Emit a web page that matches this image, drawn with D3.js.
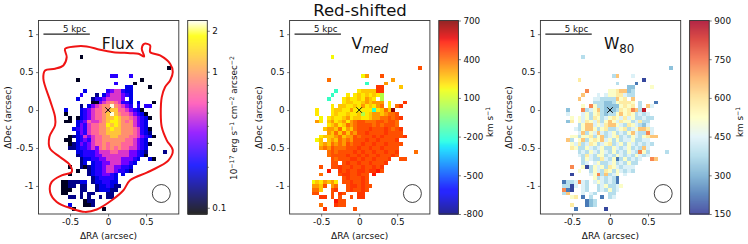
<!DOCTYPE html>
<html>
<head>
<meta charset="utf-8">
<script src="https://cdnjs.cloudflare.com/ajax/libs/d3/7.8.5/d3.min.js"></script>
<style>
  html, body { margin: 0; padding: 0; background: white; }
  svg { display: block; }
  text { font-family: "DejaVu Sans", sans-serif; fill: #111; }
</style>
</head>
<body>
<script>
const width = 748, height = 244;

// every map is one row of text per Dec step, one character per RA step
// (char = index in the levels array of that map, "." = no data)
const raFirst = -12;     // RA index of the first character
const decFirst = 14;     // Dec index of the first row
const pixelSize = 0.05;  // arcsec

const fluxLevels = [0.1, 0.14, 0.19, 0.24, 0.33, 0.5, 0.68, 0.9, 1.25, 1.7, 2.3];
const vmedLevels = [-180, 50, 170, 195, 250, 320, 390, 440, 480, 530, 680];
const w80Levels = [170, 230, 335, 390, 445, 515, 570, 640, 720, 860];

const fluxRows = [
  ".....0",
  "",
  "",
  "............................0",
  "",
  ".............33...3",
  "....0................0",
  "..............3....0",
  ".................22....0",
  "......2.....3455322",
  ".....3...1.24555432",
  "....2...133455554.2",
  "........00456765332.2...0",
  ".....1.245677a76543.3.33",
  ".2...23456677886654320",
  ".0...234566" + "78a8766543" + "20",
  "..0.02345667889877654320",
  ".00.2346556789987675432",
  "....2435667798987775432",
  "...234356677898877765320",
  "....24356677888877765321",
  "..01235456677887776654320",
  ".00.2343566777777665432",
  "..0124345667677766654320",
  "..112334546767676655432",
  "....2233345556655544321....1",
  "....1233344555555544320",
  ".....1223344555544432..20",
  ".....12.233445554432",
  "..0..10123345544332",
  "....0..123345543321",
  "..0....12334432.2",
  "........1233332",
  "0011122.1223322",
  "0011.11..1223211",
  "000..11..122211",
  "00...1.11...11",
  "..11.1.1..1.11",
  "......011",
  "..2...001",
  "...0.......0"
];

const vmedRows = [
  ".....2",
  "",
  "",
  "............................7",
  "",
  ".............25...7",
  "....6................5",
  "..............0....5",
  ".................88....4",
  "......0.....3444488",
  ".....0...3.34343431",
  "....0...343343543.1",
  "........34433454555.3...8",
  ".....3.443343534356.3.68",
  ".3...3443353233303464a",
  ".3...343343341345545667",
  "..2.34334534433455667678",
  ".53.4534535677666776776",
  "....3453465677776767776",
  "...455463546777877787678",
  "....54646465778777787777",
  "..34445645576777878777778",
  ".24.4546565777877877778",
  "..4546565767787787787777",
  "..565766677787787787777",
  "....6767777878778778778....6",
  "....6777787787877877787",
  ".....7677788787787778..77",
  ".....77.787787787778",
  "..7..77877877877878",
  "....9..878778878897",
  "..6....78877877.9",
  "........7877787",
  "2435453.7787787",
  "5547.56..7887877",
  "664..78..787787",
  "77...7.87...88",
  "..88.7.7..7.88",
  "......977",
  "..6...877",
  "...8.......7"
];

const w80Rows = [
  ".....3",
  "",
  "",
  "............................2",
  "",
  ".............37...4",
  "....6................0",
  "..............3....1",
  ".................22....5",
  "......8.....5567723",
  ".....7...4.45566433",
  "....7...443333756.7",
  "........33322356665.3...1",
  ".....5.853322225656.3.74",
  ".2...83457322236568739",
  ".4...453563233575653434",
  "..5.54536534565464533433",
  ".26.5465463575465534633",
  "....3577454677543654324",
  "...435775356334563457764",
  "....47354743453435743384",
  "..55355635734563435435677",
  ".73.5735657453534453344",
  "..5463465345634535434343",
  "..653354345335434534374",
  "....3435435435343543853....3",
  "....4364355343543435434",
  ".....3543364351353434..87",
  ".....34.453345343533",
  "..8..50354536543444",
  "....5..354365354343",
  "..0....45837345.4",
  "........5343431",
  "1334843.4543431",
  "3304.43..3453345",
  "810..43..343534",
  "37...4.43...33",
  "..56.1.3..1.34",
  "......123",
  "..6...123",
  "...1.......0"
];

// red contour of the flux panel, arcsec
const contourRa = [-0.566, -0.434, -0.281, -0.105, 0.07, 0.289, 0.399, 0.474, 0.443, 0.474, 0.553, 0.553, 0.684, 0.816, 0.851, 0.816, 0.75, 0.706, 0.693, 0.706, 0.772, 0.851, 0.794, 0.662, 0.509, 0.289, 0.202, 0.048, -0.149, -0.303, -0.478, -0.675, -0.763, -0.741, -0.61, -0.478, -0.5, -0.632, -0.763, -0.772, -0.697, -0.697, -0.763, -0.851, -0.829, -0.697, -0.588, -0.544];
const contourDec = [0.807, 0.838, 0.838, 0.794, 0.763, 0.75, 0.741, 0.706, 0.807, 0.873, 0.851, 0.763, 0.719, 0.61, 0.5, 0.39, 0.303, 0.171, -0.048, -0.224, -0.399, -0.531, -0.662, -0.75, -0.825, -0.925, -1.057, -1.189, -1.311, -1.342, -1.298, -1.211, -1.079, -0.947, -0.86, -0.816, -0.728, -0.618, -0.509, -0.355, -0.202, -0.092, 0.127, 0.412, 0.522, 0.544, 0.588, 0.697];

const xTicks = [-0.5, 0, 0.5];
const yTicks = [1, 0.5, 0, -0.5, -1];
const vmedTicks = [700, 400, 100, -200, -500, -800];
const w80Ticks = [900, 750, 600, 450, 300, 150];
const fluxTicks = [2, 1, 0.1];
const fluxMinorTicks = [0.2, 0.3, 0.4, 0.5, 0.6, 0.7, 0.8, 0.9];

const ra_limits = [-0.915, 0.93], dec_limits = [1.18, -1.37];
const axes_top = 20.5, axes_bottom = 214;

const svg = d3.select("body").append("svg")
  .attr("width", width)
  .attr("height", height);

// matplotlib gnuplot2
const gnuplot2 = (t) => {
  const clip = (v) => Math.max(0, Math.min(1, v)) * 255;
  const r = t / 0.32 - 0.78125;
  const g = 2 * t - 0.84;
  const b = t < 0.25 ? 4 * t : t < 0.92 ? -2 * t + 1.84 : t / 0.08 - 11.5;
  return d3.rgb(clip(r), clip(g), clip(b)).formatRgb();
};

// matplotlib jet
const jetR = d3.scaleLinear().domain([0, 0.35, 0.66, 0.89, 1]).range([0, 0, 255, 255, 127.5]);
const jetG = d3.scaleLinear().domain([0, 0.125, 0.375, 0.64, 0.91, 1]).range([0, 0, 255, 255, 0, 0]);
const jetB = d3.scaleLinear().domain([0, 0.11, 0.34, 0.65, 1]).range([127.5, 255, 255, 0, 0]);
const jet = (t) => d3.rgb(jetR(t), jetG(t), jetB(t)).formatRgb();

// matplotlib RdYlBu_r
const rdYlBuR = d3.piecewise(d3.interpolateRgb, ["#313695", "#4575b4", "#74add1", "#abd9e9", "#e0f3f8", "#ffffbf", "#fee090", "#fdae61", "#f46d43", "#d73027", "#a50026"]);

const fluxColor = d3.scaleSequentialLog(gnuplot2).domain([0.09, 2.38]);
const vmedColor = d3.scaleSequential(jet).domain([-800, 700]);
const w80Color = d3.scaleSequential(rdYlBuR).domain([150, 900]);

const style_axis = (g) => {
  g.select(".domain").remove();
  g.selectAll(".tick line").attr("stroke", "#222").attr("stroke-width", 0.6);
  g.selectAll(".tick text").attr("font-size", 8.8).attr("font-family", "DejaVu Sans").attr("fill", "#111");
};

const render_panel = (p) => {
  const x = d3.scaleLinear().domain(ra_limits).range([p.left, p.left + 140.3]);
  const y = d3.scaleLinear().domain(dec_limits).range([axes_top, axes_bottom]);
  const g = svg.append("g");

  // map cells
  const cells = [];
  p.rows.forEach((row, r) => {
    Array.from(row).forEach((c, k) => {
      if (c !== ".") cells.push({ ra: (raFirst + k) * pixelSize, dec: (decFirst - r) * pixelSize, value: p.levels[parseInt(c, 16)] });
    });
  });

  g.selectAll("rect.cell")
    .data(cells)
    .join("rect")
    .attr("class", "cell")
    .attr("x", (d) => x(d.ra - pixelSize / 2))
    .attr("y", (d) => y(d.dec + pixelSize / 2))
    .attr("width", x(pixelSize) - x(0))
    .attr("height", y(0) - y(pixelSize))
    .attr("fill", (d) => p.color(d.value))
    .attr("shape-rendering", "crispEdges");

  // flux contour
  if (p.contour) {
    const line = d3.line()
      .x((d) => x(d[0]))
      .y((d) => y(d[1]))
      .curve(d3.curveCatmullRomClosed.alpha(0.5));
    g.append("path")
      .attr("d", line(d3.zip(contourRa, contourDec)))
      .attr("fill", "none")
      .attr("stroke", "#f01414")
      .attr("stroke-width", 2);
  }

  // scale bar, centre and beam
  g.append("line")
    .attr("x1", x(-0.85)).attr("x2", x(-0.24))
    .attr("y1", y(1)).attr("y2", y(1))
    .attr("stroke", "#222").attr("stroke-width", 1.4);
  g.append("text")
    .attr("x", x(-0.44)).attr("y", y(1) - 2.5)
    .attr("text-anchor", "middle").attr("font-size", 8.6)
    .text("5 kpc");
  g.append("path")
    .attr("d", d3.symbol(d3.symbolTimes, 22)())
    .attr("transform", "translate(" + x(0) + "," + y(0) + ")")
    .attr("fill", "none").attr("stroke", "#111").attr("stroke-width", 1);
  g.append("circle")
    .attr("cx", x(0.7)).attr("cy", y(-1.1)).attr("r", x(0.118) - x(0))
    .attr("fill", "none").attr("stroke", "#111").attr("stroke-width", 0.8);

  // big label
  const label = g.append("text")
    .attr("x", x(p.labelRa)).attr("y", y(0.8))
    .attr("text-anchor", "middle").attr("font-size", 15.5);
  label.append("tspan").text(p.label);
  if (p.sub) {
    label.append("tspan").attr("dy", 3.5).attr("font-size", 11.8).attr("font-style", p.subItalic ? "italic" : "normal").text(p.sub);
  }

  // axes
  g.append("g")
    .attr("transform", "translate(0," + axes_bottom + ")")
    .call(d3.axisBottom(x).tickValues(xTicks).tickSize(2.5).tickPadding(2.5).tickFormat((d) => d))
    .call(style_axis);
  g.append("g")
    .attr("transform", "translate(" + p.left + ",0)")
    .call(d3.axisLeft(y).tickValues(yTicks).tickSize(2.5).tickPadding(2.5).tickFormat((d) => d))
    .call(style_axis);
  g.append("rect")
    .attr("x", p.left).attr("y", axes_top)
    .attr("width", 140.3).attr("height", axes_bottom - axes_top)
    .attr("fill", "none").attr("stroke", "#333").attr("stroke-width", 0.9);

  g.append("text")
    .attr("x", p.left + 70).attr("y", 238.5)
    .attr("text-anchor", "middle").attr("font-size", 9)
    .text("\u0394RA (arcsec)");
  g.append("text")
    .attr("transform", "translate(" + (p.left - 28) + ",117.5) rotate(-90)")
    .attr("text-anchor", "middle").attr("font-size", 9)
    .text("\u0394Dec (arcsec)");

  render_colorbar(g, p);
};

const render_colorbar = (g, p) => {
  const bar_x = p.left + 149.2, bar_w = 19.6;
  const bar = (p.log ? d3.scaleLog() : d3.scaleLinear())
    .domain(d3.extent(p.color.domain()).reverse())
    .range([axes_top, axes_bottom]);

  g.selectAll("rect.bar")
    .data(d3.range(axes_top, axes_bottom, 1))
    .join("rect")
    .attr("class", "bar")
    .attr("x", bar_x)
    .attr("y", (d) => d)
    .attr("width", bar_w)
    .attr("height", 1.2)
    .attr("fill", (d) => p.color(bar.invert(d + 0.5)));

  g.append("g")
    .attr("transform", "translate(" + (bar_x + bar_w) + ",0)")
    .call(d3.axisRight(bar).tickValues(p.ticks).tickSize(2.5).tickPadding(2.5).tickFormat((d) => d))
    .call(style_axis);

  if (p.minorTicks) {
    g.append("g")
      .attr("transform", "translate(" + (bar_x + bar_w) + ",0)")
      .call(d3.axisRight(bar).tickValues(p.minorTicks).tickSize(1.5).tickFormat(""))
      .call(style_axis);
  }

  g.append("rect")
    .attr("x", bar_x).attr("y", axes_top)
    .attr("width", bar_w).attr("height", axes_bottom - axes_top)
    .attr("fill", "none").attr("stroke", "#333").attr("stroke-width", 0.9);

  const t = g.append("text")
    .attr("transform", "translate(" + (bar_x + p.unitOffset) + "," + p.unitY + ") rotate(-90)")
    .attr("text-anchor", "middle").attr("font-size", 8.8);
  p.unit.forEach((part) => {
    t.append("tspan")
      .attr("dy", part[1] ? -2.8 : (part[2] ? 2.8 : 0))
      .attr("font-size", part[1] ? 6.2 : 8.8)
      .text(part[0]);
  });
};

render_panel({
  left: 38.5, rows: fluxRows, levels: fluxLevels, color: fluxColor, log: true, contour: true,
  label: "Flux", labelRa: 0.13,
  ticks: fluxTicks, minorTicks: fluxMinorTicks, unitOffset: 49, unitY: 118,
  unit: [["10", 0], ["\u221217", 1], [" erg s", 0, 1], ["\u22121", 1], [" cm", 0, 1], ["\u22122", 1], [" arcsec", 0, 1], ["\u22122", 1]]
});

render_panel({
  left: 289.6, rows: vmedRows, levels: vmedLevels, color: vmedColor,
  label: "V", sub: "med", subItalic: true, labelRa: 0.14,
  ticks: vmedTicks, unitOffset: 54, unitY: 122,
  unit: [["km s", 0], ["\u22121", 1]]
});

render_panel({
  left: 540.4, rows: w80Rows, levels: w80Levels, color: w80Color,
  label: "W", sub: "80", labelRa: 0.12,
  ticks: w80Ticks, unitOffset: 53, unitY: 122,
  unit: [["km s", 0], ["\u22121", 1]]
});

svg.append("text")
  .attr("x", 360).attr("y", 15.5)
  .attr("text-anchor", "middle").attr("font-size", 16.5)
  .text("Red-shifted");
</script>
</body>
</html>
